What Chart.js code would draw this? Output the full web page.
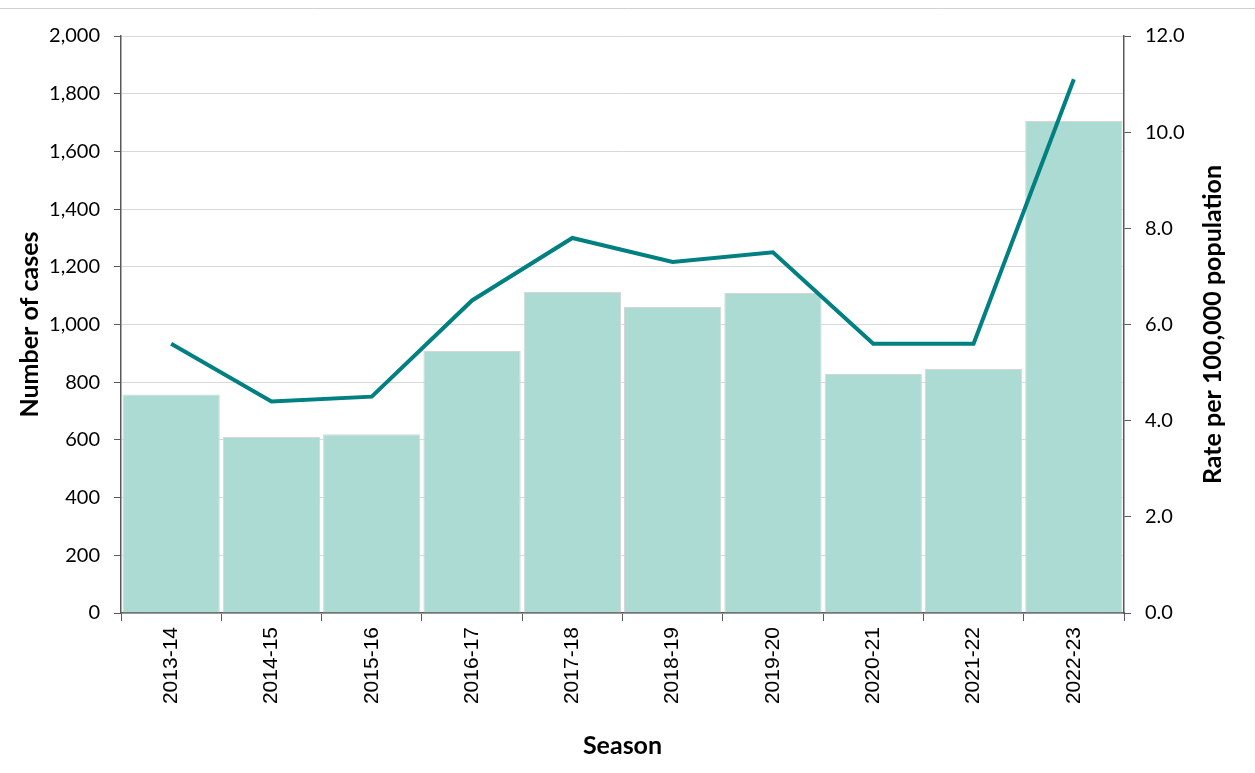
<!DOCTYPE html>
<html>
<head>
<meta charset="utf-8">
<script src="https://cdn.jsdelivr.net/npm/chart.js@4.4.0/dist/chart.umd.min.js"></script>
<style>
  body { margin: 0; background: #fff; }
  canvas { display: block; }
</style>
</head>
<body>
<canvas id="caseChart" width="1255" height="773"></canvas>
<script>
// Datos
const seasons = ['2013-14', '2014-15', '2015-16', '2016-17', '2017-18', '2018-19', '2019-20', '2020-21', '2021-22', '2022-23'];
const caseCounts = [757, 610, 620, 908, 1113, 1061, 1109, 828, 846, 1705];
const ratePer100k = [5.6, 4.4, 4.5, 6.5, 7.8, 7.3, 7.5, 5.6, 5.6, 11.1];

const axisDark = '#595959';
const gridLight = '#d9d9d9';

// Titulos de ejes y linea superior
const titlesPlugin = {
    id: 'titles',
    beforeDraw(chart) {
        const c = chart.ctx;
        c.save();
        c.strokeStyle = '#d0d0d0';
        c.lineWidth = 1;
        c.beginPath();
        c.moveTo(0, 8.5);
        c.lineTo(chart.width, 8.5);
        c.stroke();
        c.restore();
    },
    afterDraw(chart) {
        const c = chart.ctx;
        const area = chart.chartArea;
        const midY = (area.top + area.bottom) / 2;
        c.save();
        c.fillStyle = '#000';
        c.font = 'bold 25px Lato';
        c.textAlign = 'center';
        c.textBaseline = 'middle';
        c.fillText('Season', (area.left + area.right) / 2, 746);

        c.translate(30, midY);
        c.rotate(-Math.PI / 2);
        c.fillText('Number of cases', 0, 0);
        c.restore();

        c.save();
        c.fillStyle = '#000';
        c.font = 'bold 25px Lato';
        c.textAlign = 'center';
        c.textBaseline = 'middle';
        c.translate(1213, midY);
        c.rotate(-Math.PI / 2);
        c.fillText('Rate per 100,000 population', 0, 0);
        c.restore();
    }
};

const ctx = document.getElementById('caseChart').getContext('2d');
const caseChart = new Chart(ctx, {
    type: 'bar',
    data: {
        labels: seasons,
        datasets: [{
            type: 'line',
            label: 'Rate',
            data: ratePer100k,
            yAxisID: 'y1',
            borderColor: '#008080',
            borderWidth: 4,
            pointRadius: 0,
            tension: 0,
            fill: false,
            order: 0
        }, {
            type: 'bar',
            label: 'Cases',
            data: caseCounts,
            yAxisID: 'y',
            backgroundColor: '#acdbd3',
            borderColor: '#d6d6d6',
            borderWidth: 1,
            barPercentage: 0.97,
            categoryPercentage: 1,
            order: 1
        }]
    },
    options: {
        responsive: false,
        animation: false,
        layout: { padding: { top: 36, left: 0, right: 0, bottom: 0 } },
        plugins: {
            legend: { display: false },
            tooltip: { enabled: false }
        },
        scales: {
            x: {
                offset: true,
                grid: {
                    offset: true,
                    drawOnChartArea: false,
                    tickLength: 8,
                    tickColor: axisDark
                },
                border: { color: axisDark, width: 1.5 },
                ticks: {
                    minRotation: 90,
                    maxRotation: 90,
                    padding: 6,
                    color: '#000',
                    font: { family: 'Liberation Sans', size: 21 }
                },
                afterFit(scale) { scale.height = 160; }
            },
            y: {
                position: 'left',
                min: 0,
                max: 2000,
                grid: {
                    color: gridLight,
                    tickLength: 7,
                    tickColor: axisDark
                },
                border: { color: axisDark, width: 1.5 },
                ticks: {
                    stepSize: 200,
                    padding: 14,
                    color: '#000',
                    font: { family: 'Lato', size: 20 },
                    callback: v => v.toLocaleString('en-US')
                },
                afterFit(scale) { scale.width = 121; }
            },
            y1: {
                position: 'right',
                min: 0,
                max: 12,
                grid: {
                    drawOnChartArea: false,
                    tickLength: 7,
                    tickColor: axisDark
                },
                border: { color: axisDark, width: 1.5 },
                ticks: {
                    stepSize: 2,
                    padding: 14,
                    color: '#000',
                    font: { family: 'Lato', size: 20 },
                    callback: v => v.toFixed(1)
                },
                afterFit(scale) { scale.width = 131; }
            }
        }
    },
    plugins: [titlesPlugin]
});
</script>
</body>
</html>
